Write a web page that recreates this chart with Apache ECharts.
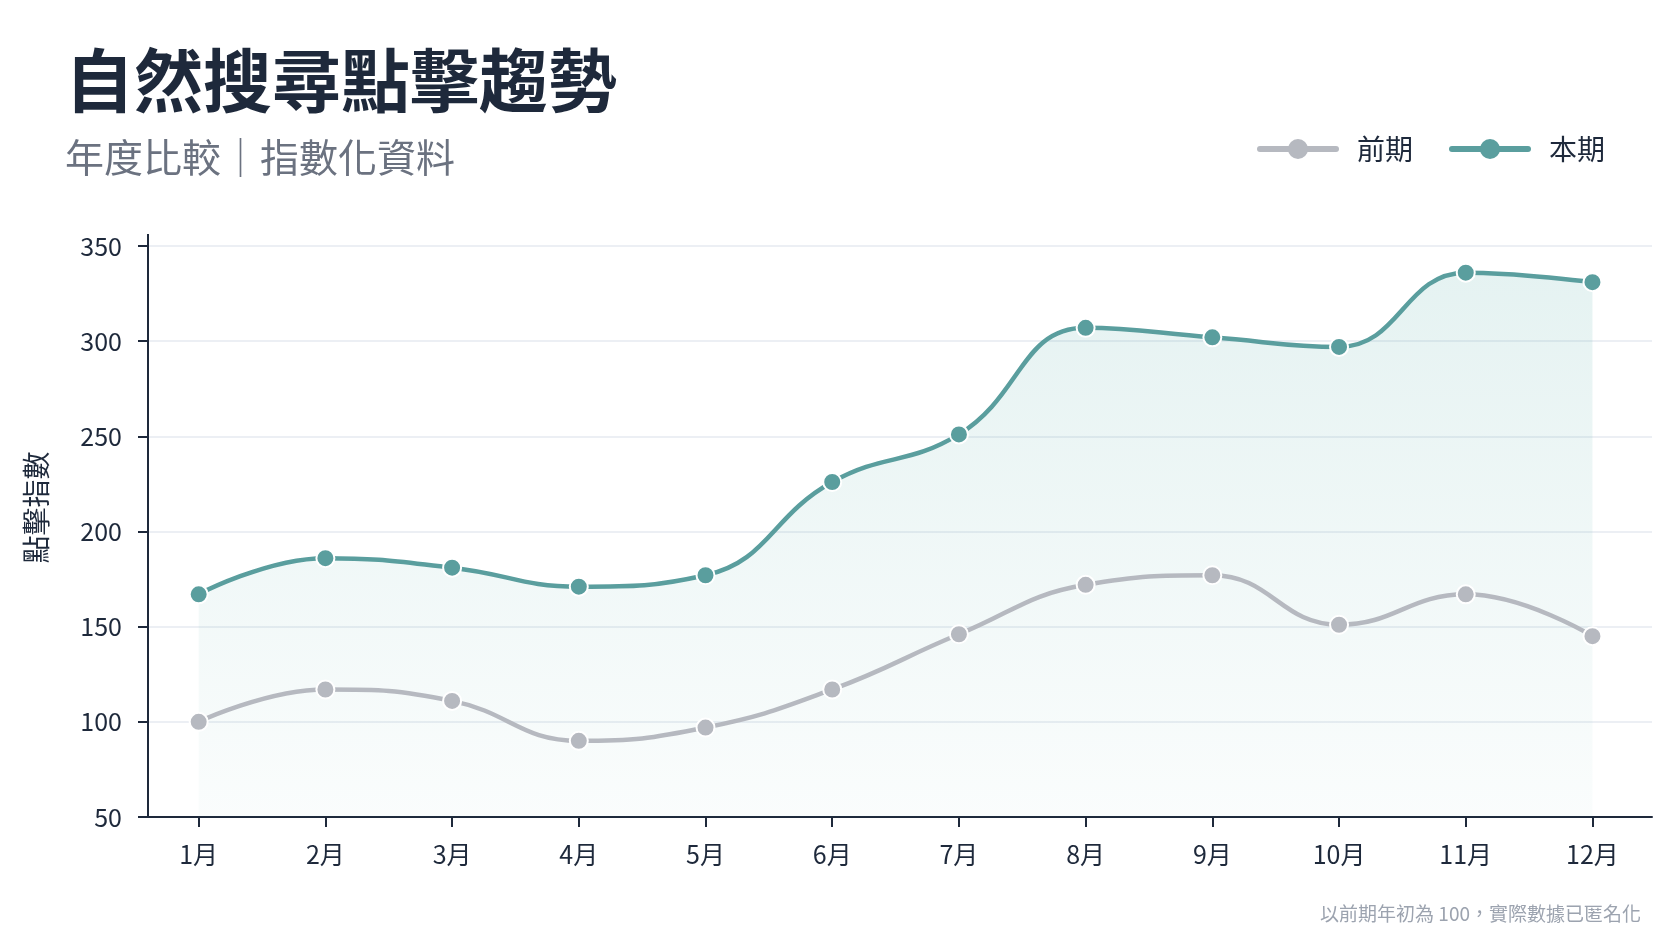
<!DOCTYPE html>
<html>
<head>
<meta charset="utf-8">
<title>自然搜尋點擊趨勢</title>
<script src="https://cdn.jsdelivr.net/npm/echarts@6/dist/echarts.min.js"></script>
<style>
  html, body { margin: 0; padding: 0; background: #fff; }
  #main { width: 1672px; height: 941px; }
</style>
</head>
<body>
<div id="main"></div>
<script>
// 資料
var months = ['1月','2月','3月','4月','5月','6月','7月','8月','9月','10月','11月','12月'];
var prevPeriod = [100, 117, 111, 90, 97, 117, 146, 172, 177, 151, 167, 145];
var curPeriod = [167, 186, 181, 171, 177, 226, 251, 307, 302, 297, 336, 331];
var yTicks = [50, 100, 150, 200, 250, 300, 350];

var FONT = '"Noto Sans CJK TC", "Noto Sans", sans-serif';
var TEAL = '#5a9e9e';
var GRAY = '#b6b9c0';
var INK = '#1e293b';

function toPoints(arr){
	return arr.map(function (v, i) { return [i, v]; });
}
var monthIdx = months.map(function (m, i) { return i; });

var myChart = echarts.init(document.getElementById('main'));
var option = {
	backgroundColor: '#fff',
	animation: false,
	textStyle: { fontFamily: FONT },
	title: [{
		text: '自然搜尋點擊趨勢',
		left: 60, top: 39,
		textStyle: { fontFamily: FONT, fontSize: 69, fontWeight: 'bold', color: INK, lineHeight: 74 }
	}, {
		text: '年度比較｜指數化資料',
		left: 60, top: 130,
		textStyle: { fontFamily: FONT, fontSize: 39, fontWeight: 'normal', color: '#6b7280', lineHeight: 44 }
	}, {
		text: '以前期年初為 100，實際數據已匿名化',
		right: 26, top: 899,
		textStyle: { fontFamily: FONT, fontSize: 19, fontWeight: 'normal', color: '#9ca3af' }
	}],
	legend: {
		data: ['前期', '本期'],
		right: 62, top: 130,
		itemWidth: 76, itemHeight: 25, itemGap: 36,
		lineStyle: { width: 6, cap: 'round' },
		itemStyle: { borderWidth: 0 },
		textStyle: { fontFamily: FONT, fontSize: 28, color: INK, padding: [0, 0, 0, 16] }
	},
	grid: { left: 148, right: 20, top: 246, bottom: 124 },
	xAxis: {
		type: 'value',
		min: -0.4, max: 11.47,
		splitLine: { show: false },
		axisLine: { show: true, onZero: false, lineStyle: { color: INK, width: 2 } },
		axisTick: { show: true, customValues: monthIdx, length: 10, lineStyle: { color: INK, width: 2 } },
		axisLabel: {
			customValues: monthIdx, margin: 25,
			fontFamily: FONT, fontSize: 25, color: INK,
			formatter: function (v) { return months[v]; }
		}
	},
	yAxis: {
		type: 'value',
		min: yTicks[0], max: yTicks[yTicks.length - 1], interval: 50,
		name: '點擊指數', nameLocation: 'middle', nameGap: 98,
		nameTextStyle: { fontFamily: FONT, fontSize: 28, color: INK, padding: [0, 0, 0, 48] },
		axisLine: { show: true, onZero: false, symbol: ['none', 'rect'], symbolSize: [2, 24], lineStyle: { color: INK, width: 2 } },
		axisTick: { show: true, length: 10, lineStyle: { color: INK, width: 2 } },
		axisLabel: { margin: 26, fontFamily: FONT, fontSize: 25, color: INK },
		splitLine: { show: true, lineStyle: { color: '#e6eaf0', width: 1.5 } }
	},
	series: [{
		name: '前期',
		type: 'line',
		data: toPoints(prevPeriod),
		smooth: 0.45,
		symbol: 'circle', symbolSize: 18,
		lineStyle: { color: GRAY, width: 4.5 },
		itemStyle: { color: GRAY, borderColor: '#fff', borderWidth: 2 },
		z: 3
	}, {
		name: '本期',
		type: 'line',
		data: toPoints(curPeriod),
		smooth: 0.45,
		symbol: 'circle', symbolSize: 18,
		lineStyle: { color: TEAL, width: 4.5 },
		itemStyle: { color: TEAL, borderColor: '#fff', borderWidth: 2 },
		areaStyle: {
			origin: 'start',
			color: new echarts.graphic.LinearGradient(0, 0, 0, 1, [
				{ offset: 0, color: 'rgba(80,170,165,0.21)' },
				{ offset: 1, color: 'rgba(80,170,165,0.04)' }
			])
		},
		z: 2
	}]
};
myChart.setOption(option);
</script>
</body>
</html>
